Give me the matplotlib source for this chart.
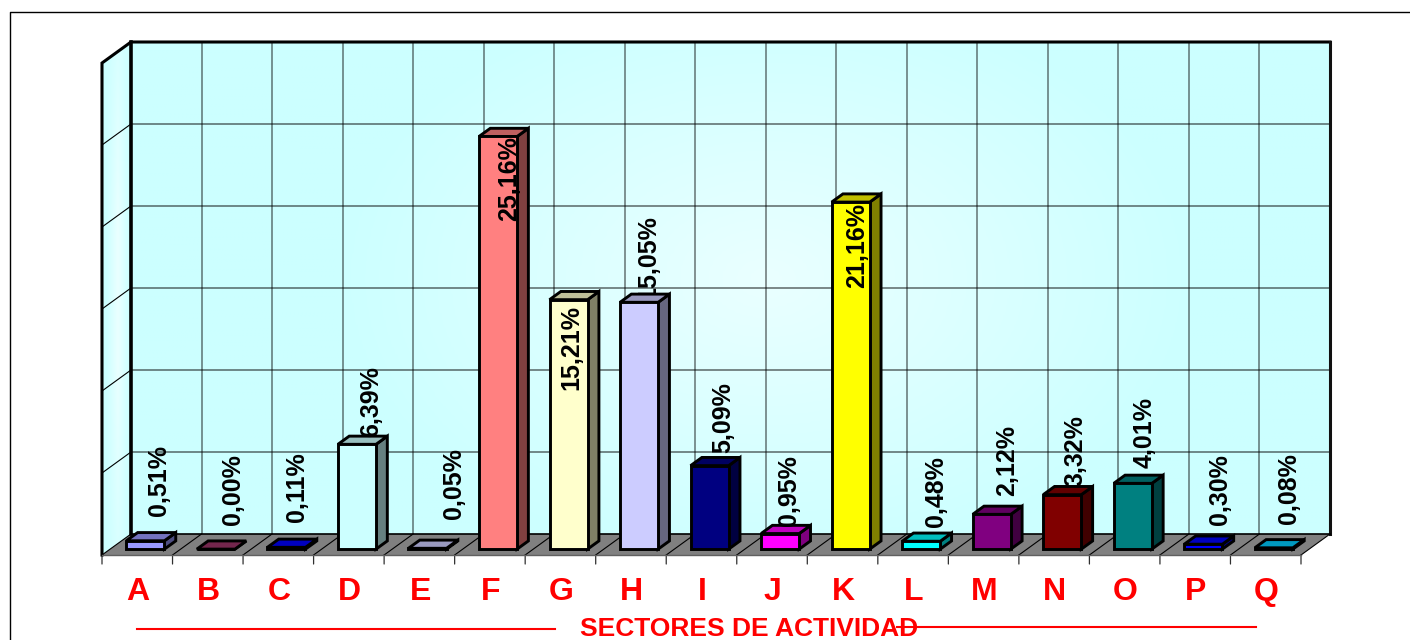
import numpy as np
from matplotlib import pyplot as plt
from matplotlib.colors import to_rgb, LinearSegmentedColormap
from matplotlib.lines import Line2D
from matplotlib.patches import Polygon
from matplotlib.transforms import Affine2D

plt.rcParams['font.family'] = ['Liberation Sans', 'DejaVu Sans']

# datos
sectores = ["A", "B", "C", "D", "E", "F", "G", "H", "I", "J", "K", "L", "M", "N", "O", "P", "Q"]
valores = [0.51, 0.00, 0.11, 6.39, 0.05, 25.16, 15.21, 15.05, 5.09, 0.95, 21.16, 0.48, 2.12, 3.32, 4.01, 0.30, 0.08]
colores = ["#9999FF", "#993366", "#0000FF", "#CCFFFF", "#CCCCFF", "#FF8080", "#FFFFCC", "#CCCCFF", "#000080",
           "#FF00FF", "#FFFF00", "#00FFFF", "#800080", "#800000", "#008080", "#0000FF", "#00CCFF"]

# posicion de cada etiqueta (pixeles de la imagen: centro x, base y)
etiqueta_x = [159, 233, 297, 371, 454, 509, 571, 648, 723, 789, 857, 936, 1007, 1075, 1145, 1220, 1289]
etiqueta_y = [516, 525, 522, 437, 519, 221, 390, 300, 453, 526, 288, 527, 496, 486, 468, 525, 524]

W, H = 1410, 640
L, R, T, B = 131, 1330, 42, 534   # pared del fondo en pixeles
YMAX = 30
fig = plt.figure(figsize=(W/100, H/100), dpi=100)
ax = fig.add_axes([L/W, 1-B/H, (R-L)/W, (B-T)/H])
ax.axis('off')
px = Affine2D().scale(1, -1).translate(0, H)  # coordenadas de imagen

N = len(sectores)
DX = 29/((R-L)/N)
DY = 21/((B-T)/YMAX)


def p3(x, y, d):
    # d=0 fondo, d=1 frente
    return (x-DX*d, y-DY*d)


def caja(i, v, color):
    x0, x1 = i+0.5-0.27, i+0.5+0.27
    d0, d1 = 0.33, 0.72
    rgb = np.array(to_rgb(color))
    frente = [p3(x0, 0, d1), p3(x1, 0, d1), p3(x1, v, d1), p3(x0, v, d1)]
    arriba = [p3(x0, v, d1), p3(x1, v, d1), p3(x1, v, d0), p3(x0, v, d0)]
    lado = [p3(x1, 0, d1), p3(x1, 0, d0), p3(x1, v, d0), p3(x1, v, d1)]
    for pts, f in [(lado, 0.5), (arriba, 0.75), (frente, 1.0)]:
        ax.add_patch(Polygon(pts, fc=rgb*f, ec='black', lw=2.1, joinstyle='miter', clip_on=False, zorder=5))


# gradientes de las paredes
cmap = LinearSegmentedColormap.from_list('pared', ["#CCFFFF", "#EAFFFF"])
xx, yy = np.meshgrid(np.linspace(0, 1, 300), np.linspace(0, 1, 200))
r = np.sqrt(((xx-0.53)/0.36)**2 + ((yy-0.52)/0.6)**2)
ax.imshow(np.clip(1-r, 0, 1), extent=[0, N, 0, YMAX], origin='lower', cmap=cmap, vmin=0, vmax=1,
          aspect='auto', zorder=0)
pared = [p3(0, 0, 0), p3(0, YMAX, 0), p3(0, YMAX, 1), p3(0, 0, 1)]
img = ax.imshow(np.clip(1-np.abs(xx-0.55)/0.4, 0, 1)*np.clip(1.2-np.abs(yy-0.5)*1.6, 0, 1),
                extent=[-DX, 0, -DY, YMAX], origin='lower', cmap=cmap, vmin=0, vmax=1, aspect='auto', zorder=0)
pared_patch = Polygon(pared, fc='none', ec='none', transform=ax.transData, clip_on=False)
ax.add_patch(pared_patch)
img.set_clip_box(fig.bbox)
img.set_clip_path(pared_patch)
ax.set_xlim(0, N)
ax.set_ylim(0, YMAX)

# suelo
ax.add_patch(Polygon([p3(0, 0, 0), p3(N, 0, 0), p3(N, 0, 1), p3(0, 0, 1)], fc='#808080', ec='none',
                     clip_on=False, zorder=1))

# rejilla
for v in range(5, YMAX, 5):
    ax.plot([0, N], [v, v], color='black', alpha=0.55, lw=1.2, zorder=2)
    a, b = p3(0, v, 0), p3(0, v, 1)
    ax.plot([a[0], b[0]], [a[1], b[1]], color='black', lw=0.8, zorder=2, clip_on=False)
for i in range(1, N):
    ax.plot([i, i], [0, YMAX], color='black', alpha=0.55, lw=1.1, zorder=2)
for i in range(N+1):
    a, b = p3(i, 0, 0), p3(i, 0, 1)
    ax.plot([a[0], b[0]], [a[1], b[1]], color='black', lw=0.8, zorder=2, clip_on=False)
    # marcas del eje
    ax.annotate('', xy=b, xytext=(0, -6.5), textcoords='offset points', annotation_clip=False,
                arrowprops=dict(arrowstyle='-', color='#303030', lw=0.9, shrinkA=0, shrinkB=0), zorder=2)

# bordes
a, b, c, d = p3(0, 0, 1), p3(0, YMAX, 1), p3(0, YMAX, 0), p3(N, YMAX, 0)
ax.plot([a[0], b[0], c[0], d[0]], [a[1], b[1], c[1], d[1]], color='black', lw=2.2, clip_on=False,
        zorder=3, solid_joinstyle='miter')
ax.plot([0, 0], [0, YMAX], color='black', lw=2.6, clip_on=False, zorder=3)
ax.plot([N, N], [0, YMAX], color='#101010', lw=2.2, clip_on=False, zorder=3)
ax.plot([0, N], [0, 0], color='black', lw=1.2, clip_on=False, zorder=3)
a, b = p3(0, 0, 1), p3(N, 0, 1)
ax.plot([a[0], b[0]], [a[1], b[1]], color='#606060', lw=1, clip_on=False, zorder=3)

# barras
for i, v in enumerate(valores):
    caja(i, v, colores[i])

# etiquetas de datos (la H queda detras de su barra)
for i, v in enumerate(valores):
    txt = "{:.2f}%".format(v).replace('.', ',')
    ax.text(etiqueta_x[i], etiqueta_y[i], txt, transform=px, rotation=90, ha='center', va='bottom',
            fontsize=18, fontweight='bold', color='black', zorder=4 if sectores[i] == 'H' else 6, clip_on=False)

# letras de los sectores
for i, s in enumerate(sectores):
    ax.annotate(s, xy=p3(i+0.5, 0, 1), xytext=(0.5, -26.5), textcoords='offset points', ha='center', va='center',
                fontsize=23, fontweight='bold', color='#FF0000', annotation_clip=False)

# titulo del eje con su linea
fig.add_artist(Line2D([137, 555], [628.5, 628.5], transform=px, color='#FF0000', lw=1.5))
fig.add_artist(Line2D([897, 1256], [627, 627], transform=px, color='#FF0000', lw=1.5))
fig.text(749, 629, "SECTORES DE ACTIVIDAD", transform=px, ha='center', va='center', fontsize=19,
         fontweight='bold', color='#FF0000')

# marco exterior
fig.add_artist(Line2D([10, 10, W], [H, 12, 12], transform=px, color='black', lw=1))

fig.savefig("out.png", dpi=100)
